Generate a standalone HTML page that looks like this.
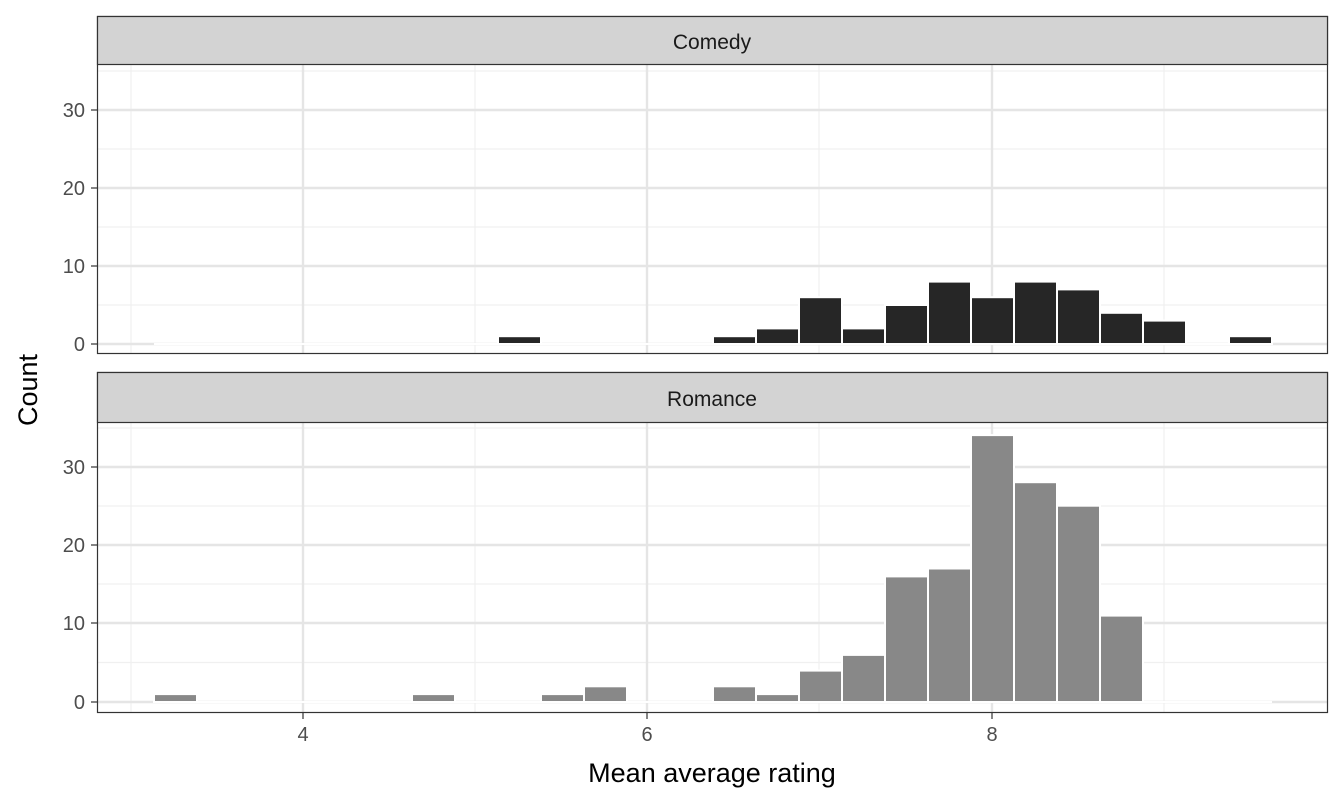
<!DOCTYPE html>
<html><head><meta charset="utf-8"><style>
html,body{margin:0;padding:0;background:#fff;}
svg{display:block;}
text{font-family:"Liberation Sans",Arial,sans-serif;}
</style></head><body>
<svg width="1344" height="806" viewBox="0 0 1344 806" xmlns="http://www.w3.org/2000/svg">
<rect width="1344" height="806" fill="#fff"/>
<g id="p1">
<g stroke="#f0f0f0" stroke-width="1.2">
<line x1="97" x2="1328" y1="305" y2="305"/><line x1="97" x2="1328" y1="227" y2="227"/><line x1="97" x2="1328" y1="149" y2="149"/><line x1="97" x2="1328" y1="71" y2="71"/>
<line x1="131" x2="131" y1="64" y2="354"/><line x1="475" x2="475" y1="64" y2="354"/><line x1="819" x2="819" y1="64" y2="354"/><line x1="1164" x2="1164" y1="64" y2="354"/>
</g>
<g stroke="#e5e5e5" stroke-width="2.4">
<line x1="97" x2="1328" y1="344" y2="344"/><line x1="97" x2="1328" y1="266" y2="266"/><line x1="97" x2="1328" y1="188" y2="188"/><line x1="97" x2="1328" y1="110" y2="110"/>
<line x1="303" x2="303" y1="64" y2="354"/><line x1="647" x2="647" y1="64" y2="354"/><line x1="992" x2="992" y1="64" y2="354"/>
</g>
<g fill="#262626" stroke="#fff" stroke-width="2">
<line x1="154" x2="1272" y1="344" y2="344" stroke="#fff"/>
<rect x="498" y="336.2" width="43" height="7.8"/>
<rect x="713" y="336.2" width="43" height="7.8"/>
<rect x="756" y="328.4" width="43" height="15.6"/>
<rect x="799" y="297.2" width="43" height="46.8"/>
<rect x="842" y="328.4" width="43" height="15.6"/>
<rect x="885" y="305" width="43" height="39"/>
<rect x="928" y="281.6" width="43" height="62.4"/>
<rect x="971" y="297.2" width="43" height="46.8"/>
<rect x="1014" y="281.6" width="43" height="62.4"/>
<rect x="1057" y="289.4" width="43" height="54.6"/>
<rect x="1100" y="312.8" width="43" height="31.2"/>
<rect x="1143" y="320.6" width="43" height="23.4"/>
<rect x="1229" y="336.2" width="43" height="7.8"/>
</g>
<rect x="97.5" y="16.5" width="1230" height="337" fill="none" stroke="#333" stroke-width="1.2"/>
<rect x="97.5" y="16.5" width="1230" height="48" fill="#d3d3d3" stroke="#333" stroke-width="1.2"/>
<text x="712" y="49" font-size="21" text-anchor="middle" fill="#1a1a1a">Comedy</text>
<g font-size="20" fill="#4d4d4d" text-anchor="end">
<text x="85" y="351">0</text><text x="85" y="273">10</text><text x="85" y="195">20</text><text x="85" y="117">30</text>
</g>
<g stroke="#333" stroke-width="1.2"><line x1="91" x2="97" y1="344" y2="344"/><line x1="91" x2="97" y1="266" y2="266"/><line x1="91" x2="97" y1="188" y2="188"/><line x1="91" x2="97" y1="110" y2="110"/></g>
</g>
<g id="p2">
<g stroke="#f0f0f0" stroke-width="1.2">
<line x1="97" x2="1328" y1="662.5" y2="662.5"/><line x1="97" x2="1328" y1="584" y2="584"/><line x1="97" x2="1328" y1="506" y2="506"/><line x1="97" x2="1328" y1="428" y2="428"/>
<line x1="131" x2="131" y1="422" y2="713"/><line x1="475" x2="475" y1="422" y2="713"/><line x1="819" x2="819" y1="422" y2="713"/><line x1="1164" x2="1164" y1="422" y2="713"/>
</g>
<g stroke="#e5e5e5" stroke-width="2.4">
<line x1="97" x2="1328" y1="702" y2="702"/><line x1="97" x2="1328" y1="623" y2="623"/><line x1="97" x2="1328" y1="545" y2="545"/><line x1="97" x2="1328" y1="467" y2="467"/>
<line x1="303" x2="303" y1="422" y2="713"/><line x1="647" x2="647" y1="422" y2="713"/><line x1="992" x2="992" y1="422" y2="713"/>
</g>
<g fill="#888" stroke="#fff" stroke-width="2">
<line x1="154" x2="1272" y1="702" y2="702"/>
<rect x="154" y="694.1" width="43" height="7.9"/>
<rect x="412" y="694.1" width="43" height="7.9"/>
<rect x="541" y="694.1" width="43" height="7.9"/>
<rect x="584" y="686.3" width="43" height="15.7"/>
<rect x="713" y="686.3" width="43" height="15.7"/>
<rect x="756" y="694.1" width="43" height="7.9"/>
<rect x="799" y="670.6" width="43" height="31.4"/>
<rect x="842" y="654.9" width="43" height="47.1"/>
<rect x="885" y="576.4" width="43" height="125.6"/>
<rect x="928" y="568.5" width="43" height="133.5"/>
<rect x="971" y="435.1" width="43" height="266.9"/>
<rect x="1014" y="482.2" width="43" height="219.8"/>
<rect x="1057" y="505.7" width="43" height="196.3"/>
<rect x="1100" y="615.6" width="43" height="86.4"/>
</g>
<rect x="97.5" y="372.5" width="1230" height="340" fill="none" stroke="#333" stroke-width="1.2"/>
<rect x="97.5" y="372.5" width="1230" height="50" fill="#d3d3d3" stroke="#333" stroke-width="1.2"/>
<text x="712" y="406" font-size="21" text-anchor="middle" fill="#1a1a1a">Romance</text>
<g font-size="20" fill="#4d4d4d" text-anchor="end">
<text x="85" y="709">0</text><text x="85" y="630">10</text><text x="85" y="552">20</text><text x="85" y="474">30</text>
</g>
<g stroke="#333" stroke-width="1.2"><line x1="91" x2="97" y1="702" y2="702"/><line x1="91" x2="97" y1="623" y2="623"/><line x1="91" x2="97" y1="545" y2="545"/><line x1="91" x2="97" y1="467" y2="467"/>
<line x1="303" x2="303" y1="713" y2="719"/><line x1="647" x2="647" y1="713" y2="719"/><line x1="992" x2="992" y1="713" y2="719"/></g>
</g>
<g font-size="20" fill="#4d4d4d" text-anchor="middle">
<text x="303" y="741">4</text><text x="647" y="741">6</text><text x="992" y="741">8</text>
</g>
<text x="712" y="782" font-size="27" text-anchor="middle" fill="#000">Mean average rating</text>
<text x="0" y="0" font-size="27" text-anchor="middle" fill="#000" transform="translate(37,390) rotate(-90)">Count</text>
</svg>
</body></html>
